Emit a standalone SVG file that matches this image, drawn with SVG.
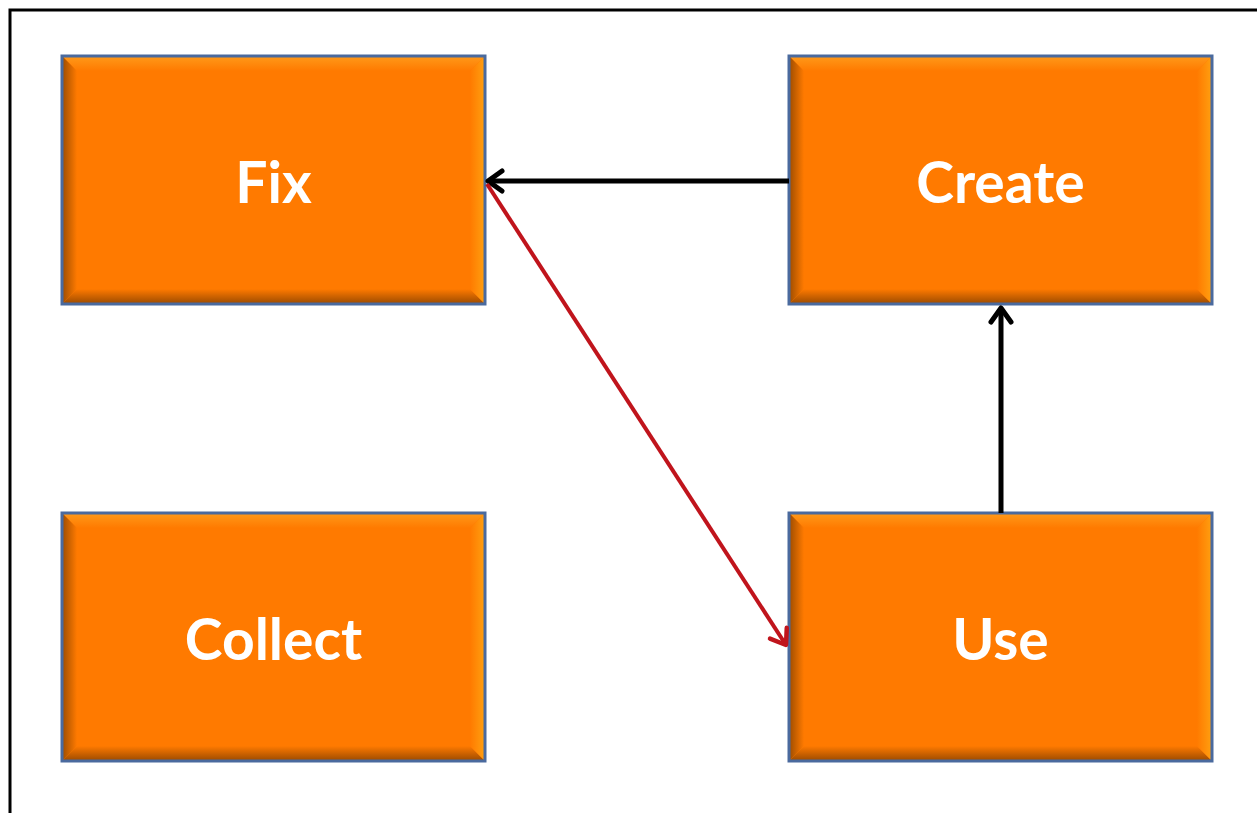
<svg xmlns="http://www.w3.org/2000/svg" xmlns:xlink="http://www.w3.org/1999/xlink" width="1257" height="813" viewBox="0 0 1257 813">
<style>
.label{font-family:Lato,"Open Sans","Liberation Sans",sans-serif;font-weight:bold;font-size:57px;fill:#ffffff;text-anchor:middle}
.conn{fill:none}
.blk{stroke:#000000;stroke-width:5}
.red{stroke:#C0141C;stroke-width:4}
</style>
<defs>
<linearGradient id="gTop" x1="0" y1="0" x2="0" y2="1"><stop offset="0" stop-color="#FF9A1A"/><stop offset="1" stop-color="#FF7A00"/></linearGradient>
<linearGradient id="gBot" x1="0" y1="0" x2="0" y2="1"><stop offset="0" stop-color="#FF7A00"/><stop offset="1" stop-color="#9A4A00"/></linearGradient>
<linearGradient id="gLeft" x1="0" y1="0" x2="1" y2="0"><stop offset="0" stop-color="#9C4C00"/><stop offset="1" stop-color="#FF7A00"/></linearGradient>
<linearGradient id="gRight" x1="0" y1="0" x2="1" y2="0"><stop offset="0" stop-color="#FF7A00"/><stop offset="1" stop-color="#FFA010"/></linearGradient>
<g id="box">
<rect x="0" y="0" width="423" height="248" fill="#FF7A00"/>
<polygon points="0,0 423,0 408,15 15,15" fill="url(#gTop)"/>
<polygon points="0,248 423,248 408,233 15,233" fill="url(#gBot)"/>
<polygon points="0,0 15,15 15,233 0,248" fill="url(#gLeft)"/>
<polygon points="423,0 408,15 408,233 423,248" fill="url(#gRight)"/>
<rect x="0" y="0" width="423" height="248" fill="none" stroke="#4A6A9E" stroke-width="3"/>
</g>
<marker id="arrBlk" viewBox="-18 -13 21 26" markerWidth="21" markerHeight="26" refX="0" refY="0" orient="auto" markerUnits="userSpaceOnUse">
<path d="M-14,-10 L0,0 L-14,10" fill="none" stroke="#000000" stroke-width="5" stroke-linecap="round" stroke-linejoin="round"/>
</marker>
<marker id="arrRed" viewBox="-18 -13 21 26" markerWidth="21" markerHeight="26" refX="0" refY="0" orient="auto" markerUnits="userSpaceOnUse">
<path d="M-14,-10 L0,0 L-14,10" fill="none" stroke="#C0141C" stroke-width="4.5" stroke-linecap="round" stroke-linejoin="round"/>
</marker>
</defs>
<rect x="0" y="0" width="1257" height="813" fill="#ffffff"/>
<path d="M10,813 V10 H1257" fill="none" stroke="#000000" stroke-width="3"/>
<g id="node-fix">
<use xlink:href="#box" x="62" y="56"/>
<text class="label" x="273.5" y="203">Fix</text>
</g>
<g id="node-create">
<use xlink:href="#box" x="789" y="56"/>
<text class="label" x="1000.5" y="203">Create</text>
</g>
<g id="node-collect">
<use xlink:href="#box" x="62" y="513"/>
<text class="label" x="273.5" y="660">Collect</text>
</g>
<g id="node-use">
<use xlink:href="#box" x="789" y="513"/>
<text class="label" x="1000.5" y="660">Use</text>
</g>
<g id="connectors">
<line class="conn blk" x1="789" y1="181" x2="488" y2="181" marker-end="url(#arrBlk)"/>
<line class="conn blk" x1="1001" y1="513" x2="1001" y2="308" marker-end="url(#arrBlk)"/>
<line class="conn red" x1="487" y1="184" x2="786" y2="645" marker-end="url(#arrRed)"/>
</g>
</svg>
